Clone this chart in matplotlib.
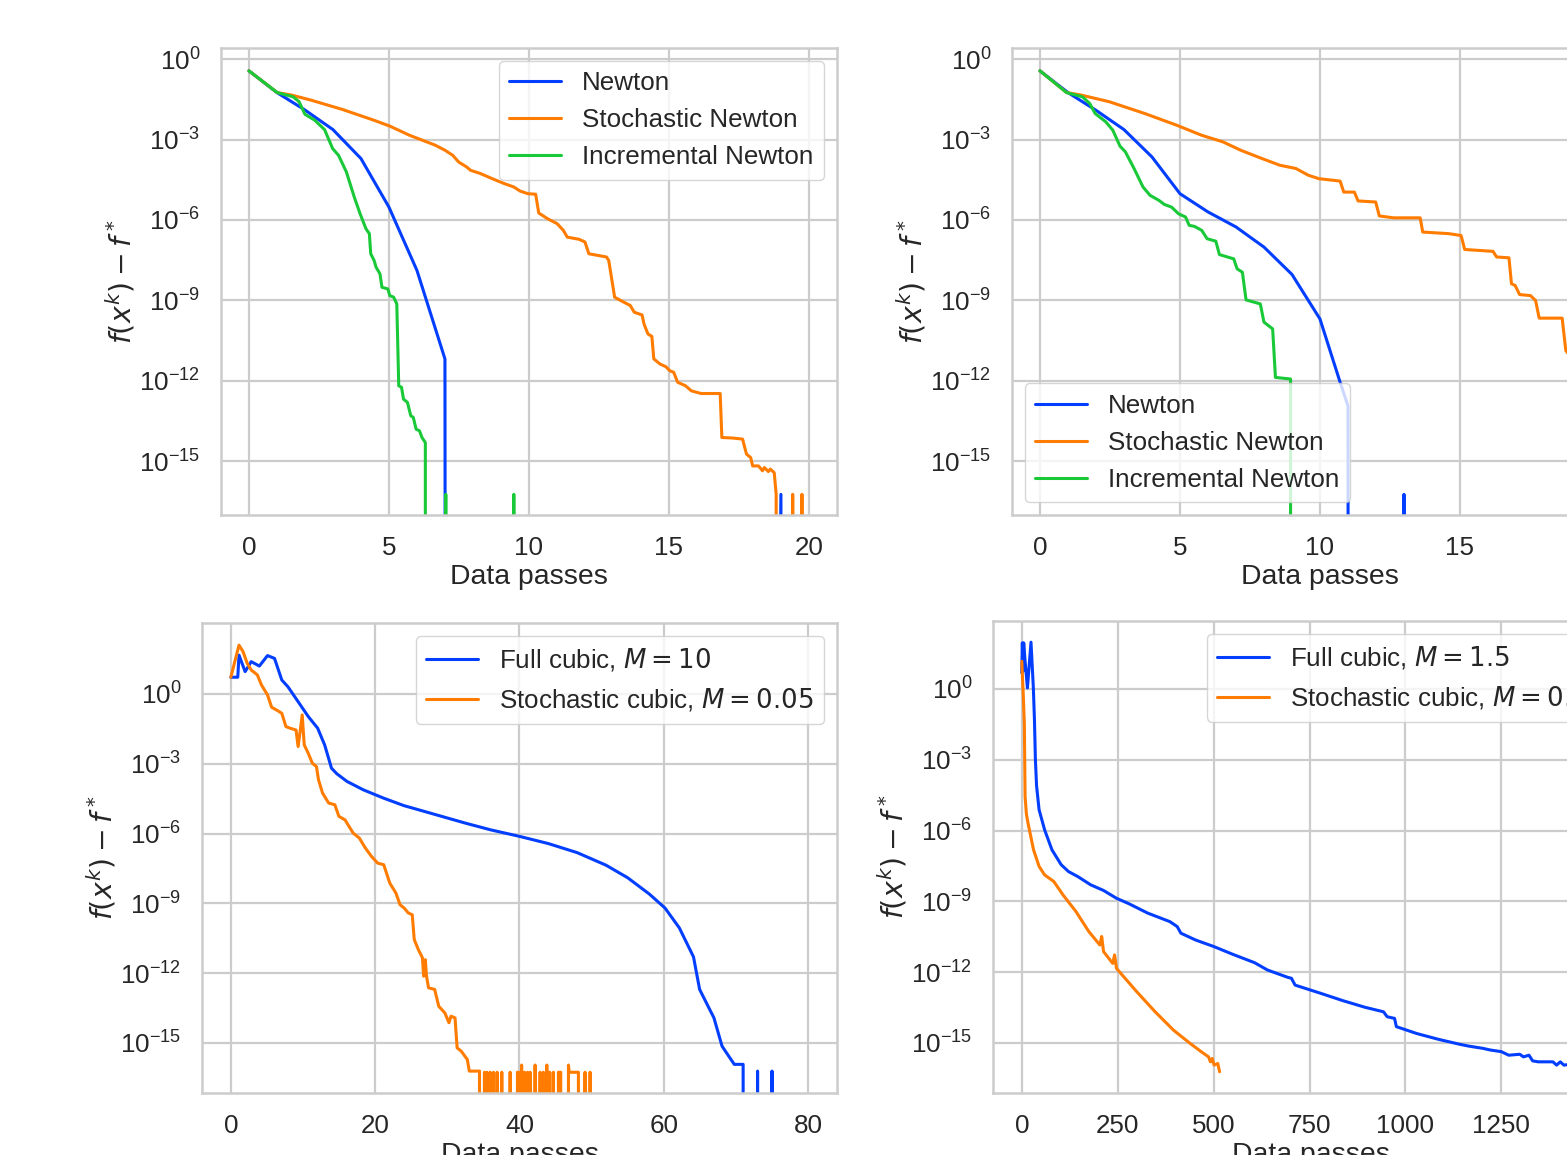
import numpy as np
import matplotlib
matplotlib.use("Agg")
import matplotlib.pyplot as plt
import seaborn as sns
from matplotlib.ticker import NullLocator

NINF = -np.inf  # exact zero gap, drawn as a drop to the bottom of the log axis

# --- top left: data passes and log10(f(x^k) - f*) ---
tl_newton_x = [0, 1, 2, 3, 4, 5, 6, 7, 8, 19, 20]
tl_newton_log = [-0.44, -1.25, -1.9, -2.63, -3.71, -5.52, -7.88, -11.18, NINF, -16.23, NINF]

tl_incr_x = [0, 1.01, 1.58, 1.79, 2.0, 2.35, 2.7, 2.99, 3.2, 3.48, 3.76, 3.97, 4.18, 4.3,
             4.35, 4.47, 4.54, 4.68, 4.75, 4.96, 5.03, 5.17, 5.28, 5.35, 5.45, 5.52, 5.66,
             5.78, 5.87, 5.97, 6.09, 6.18, 6.3, 6.35, 7.03, 7.1, 9.46, 9.55]
tl_incr_log = [-0.44, -1.25, -1.41, -1.59, -2.06, -2.28, -2.63, -3.34, -3.59, -4.21, -5.14,
               -5.77, -6.33, -6.51, -7.26, -7.51, -7.76, -8.01, -8.51, -8.57, -8.82, -8.88,
               -9.13, -12.18, -12.24, -12.68, -12.8, -13.3, -13.36, -13.8, -13.86, -14.11,
               -14.3, NINF, -16.23, NINF, -16.23, NINF]

tl_stoch_x = [0, 1.01, 1.51, 2.21, 3.34, 4.46, 5.03, 5.73, 6.65, 7.0, 7.28, 7.49, 7.77, 7.92,
              8.27, 8.69, 9.11, 9.46, 9.68, 9.96, 10.24, 10.35, 10.66, 11.01, 11.23, 11.37,
              11.79, 12.0, 12.14, 12.77, 12.85, 13.06, 13.27, 13.62, 13.76, 14.04, 14.11,
              14.25, 14.39, 14.46, 14.68, 14.89, 15.03, 15.17, 15.31, 15.59, 15.8, 16.15,
              16.83, 16.89, 17.28, 17.63, 17.77, 17.92, 17.99, 18.2, 18.34, 18.41, 18.55,
              18.62, 18.76, 18.83, 18.9, 19.42, 19.5, 19.75, 19.85, 20.0]
tl_stoch_log = [-0.44, -1.25, -1.34, -1.53, -1.88, -2.28, -2.5, -2.84, -3.21, -3.4, -3.59,
                -3.84, -4.02, -4.15, -4.27, -4.46, -4.64, -4.77, -4.92, -5.02, -5.04, -5.74,
                -5.95, -6.14, -6.39, -6.64, -6.72, -6.82, -7.26, -7.38, -7.51, -8.88, -9.0,
                -9.19, -9.44, -9.54, -9.88, -10.25, -10.34, -11.18, -11.37, -11.47, -11.62,
                -11.68, -12.05, -12.18, -12.37, -12.47, -12.47, -14.11, -14.13, -14.17,
                -14.73, -14.86, -15.17, -15.17, -15.35, -15.23, -15.38, -15.29, -15.42,
                -16.23, NINF, -16.23, NINF, -16.23, NINF, NINF]

# --- top right ---
tr_newton_x = [0, 1, 2, 3, 4, 5, 6, 7, 8, 9, 10, 10.72, 11, 12, 13, 14, 20]
tr_newton_log = [-0.44, -1.25, -1.91, -2.63, -3.65, -5.02, -5.7, -6.26, -7.01, -8.03, -9.69,
                 -12.05, -12.93, NINF, -16.23, NINF, NINF]

tr_incr_x = [0, 0.95, 1.52, 1.78, 1.97, 2.35, 2.6, 2.86, 3.05, 3.36, 3.68, 3.93, 4.25, 4.44,
             4.7, 4.95, 5.2, 5.33, 5.52, 5.78, 5.97, 6.28, 6.41, 6.92, 7.04, 7.23, 7.36,
             7.87, 8.0, 8.31, 8.41, 8.95, 9.0]
tr_incr_log = [-0.44, -1.25, -1.41, -1.66, -2.03, -2.34, -2.65, -3.25, -3.46, -4.08, -4.77,
               -5.08, -5.27, -5.42, -5.52, -5.77, -5.89, -6.2, -6.24, -6.39, -6.7, -6.79,
               -7.29, -7.45, -7.82, -7.95, -8.98, -9.13, -9.81, -10.06, -11.87, -11.93, NINF]

tr_stoch_x = [0, 0.95, 1.46, 2.47, 3.74, 4.89, 5.77, 6.54, 7.17, 7.93, 8.57, 9.14, 9.58, 9.96,
              10.72, 10.85, 11.23, 11.36, 11.99, 12.12, 12.63, 13.58, 13.67, 14.6, 15.04,
              15.17, 16.18, 16.31, 16.75, 16.84, 16.97, 17.13, 17.52, 17.7, 17.83, 18.65,
              18.78, 19.2, 19.6, 20.0]
tr_stoch_log = [-0.44, -1.25, -1.34, -1.59, -2.03, -2.47, -2.84, -3.09, -3.4, -3.71, -3.96,
                -4.08, -4.33, -4.46, -4.55, -4.96, -4.96, -5.29, -5.33, -5.85, -5.92, -5.92,
                -6.45, -6.51, -6.58, -7.1, -7.17, -7.38, -7.41, -8.38, -8.44, -8.78, -8.82,
                -9.0, -9.66, -9.66, -10.87, -11.4, -11.9, -12.5]

# --- bottom left ---
bl_full_x = [0, 0.96, 1.13, 1.98, 2.82, 3.95, 5.08, 6.05, 7.06, 7.91, 9.32, 10.73, 12.03,
             13.0, 13.95, 14.69, 16.1, 18.36, 21.19, 24.0, 26.84, 30.0, 32.49, 36.0, 40.0,
             44.0, 48.0, 52.0, 55.0, 58.0, 60.17, 62.15, 64.12, 64.97, 66.95, 68.08, 69.77,
             71.0, 72, 73, 74, 75, 76, 80]
bl_full_log = [0.72, 0.72, 1.67, 0.96, 1.39, 1.2, 1.65, 1.53, 0.6, 0.31, -0.33, -0.97, -1.47,
               -2.19, -3.19, -3.43, -3.76, -4.12, -4.48, -4.8, -5.05, -5.33, -5.55, -5.84,
               -6.12, -6.43, -6.82, -7.36, -7.9, -8.6, -9.2, -10.05, -11.3, -12.7, -13.92,
               -15.14, -15.92, -15.92, NINF, -16.21, NINF, -16.21, NINF, NINF]

bl_stoch_x = [0, 1.13, 1.69, 2.26, 2.82, 3.67, 4.24, 5.08, 5.65, 6.5, 7.06, 7.63, 8.19, 9.04,
              9.32, 9.6, 9.89, 10.17, 10.73, 11.3, 11.86, 12.15, 12.71, 13.56, 14.41, 14.97,
              15.82, 16.95, 17.8, 18.64, 19.49, 20.34, 21.19, 22.03, 22.88, 23.45, 24.01,
              24.58, 25.14, 25.42, 25.99, 26.55, 26.72, 26.95, 27.12, 27.4, 28.25, 28.81,
              29.66, 30.23, 30.51, 31.07, 31.36, 31.92, 32.77, 33.05, 34.46, 34.6, 35.15,
              35.3, 35.5, 35.65, 35.94, 36.1, 36.4, 36.55, 36.9, 37.05, 37.55, 37.7, 38.71,
              38.85, 39.72, 39.9, 40.05, 40.3, 40.45, 40.7, 40.85, 41.11, 41.25, 41.48, 41.6,
              42.17, 42.3, 42.86, 43.0, 43.3, 43.45, 43.79, 43.95, 44.2, 44.35, 44.71, 44.85,
              45.4, 45.72, 45.85, 46.79, 46.9, 48.17, 48.3, 49.09, 49.2, 49.79, 49.9]
bl_stoch_log = [0.72, 2.1, 1.82, 1.32, 1.03, 0.82, 0.39, -0.04, -0.57, -0.72, -0.83, -1.4,
                -1.47, -1.55, -2.26, -1.62, -0.9, -2.19, -2.55, -2.98, -3.12, -3.69, -4.26,
                -4.69, -4.76, -5.26, -5.41, -5.98, -6.19, -6.62, -6.98, -7.27, -7.34, -8.13,
                -8.56, -9.06, -9.2, -9.41, -9.49, -10.56, -10.99, -11.34, -12.13, -11.42,
                -12.13, -12.63, -12.7, -13.42, -13.71, -14.13, -13.85, -13.92, -15.21,
                -15.35, -15.71, -16.21, -16.21, NINF, -16.26, NINF, -16.26, NINF, -16.26,
                NINF, -16.26, NINF, -16.26, NINF, -16.26, NINF, -16.26, NINF, -16.26, -16.26,
                NINF, -15.95, NINF, -16.26, NINF, -16.26, NINF, -16.26, NINF, -15.95, NINF,
                -16.26, NINF, -16.26, NINF, -15.95, NINF, -16.26, NINF, -16.26, NINF, -16.26,
                -16.26, NINF, -15.95, -16.26, -16.26, NINF, -16.26, NINF, -16.26, NINF]

# --- bottom right ---
br_full_x = [0, 1.5, 3.0, 5.0, 8.5, 14.7, 24.0, 30.0, 33.0, 35.5, 38.5, 45.1, 59.5, 78.7,
             102.7, 121.9, 145.9, 179.5, 213.1, 246.8, 280.4, 328.3, 386.0, 405.1, 414.7,
             453.2, 501.2, 549.2, 606.8, 640.4, 693.2, 702.8, 712.4, 779.6, 837.2, 894.8,
             942.8, 952.4, 971.6, 976.4, 1029.2, 1086.8, 1139.6, 1163.6, 1202.0, 1221.2,
             1250.0, 1269.2, 1298.0, 1307.6, 1322.0, 1331.6, 1346.0, 1384.4, 1394.0, 1403.6,
             1413.0, 1440.0, 1470.0, 1505.0]
br_full_log = [0.68, 1.95, 0.75, 1.95, 1.2, 0.04, 1.98, 0.1, -1.3, -3.0, -4.1, -5.12, -5.97,
               -6.82, -7.45, -7.74, -7.95, -8.3, -8.54, -8.87, -9.11, -9.5, -9.86, -10.07,
               -10.35, -10.64, -10.92, -11.24, -11.6, -11.91, -12.22, -12.26, -12.55, -12.9,
               -13.21, -13.49, -13.68, -13.89, -13.96, -14.31, -14.6, -14.85, -15.05, -15.13,
               -15.23, -15.3, -15.37, -15.52, -15.48, -15.59, -15.52, -15.76, -15.8, -15.8,
               -15.94, -15.8, -15.94, -15.88, -15.95, -16.0]

br_stoch_x = [0, 4.0, 6.7, 8.6, 12.0, 16.3, 30.7, 45.1, 59.5, 83.5, 107.5, 141.1, 174.7,
              203.5, 208.3, 213.1, 237.1, 241.9, 246.8, 299.6, 347.6, 395.6, 438.8, 467.6,
              486.8, 491.6, 496.4, 501.2, 510.8, 515.6]
br_stoch_log = [1.17, -0.3, -1.5, -4.55, -5.3, -5.69, -6.82, -7.52, -7.88, -8.16, -8.73,
                -9.43, -10.28, -10.85, -10.49, -11.13, -11.63, -11.27, -11.84, -12.83,
                -13.68, -14.46, -15.02, -15.37, -15.59, -15.8, -15.66, -15.94, -15.87, -16.22]

top_labels = ["Newton", "Stochastic Newton", "Incremental Newton"]
ytick_exps = [0, -3, -6, -9, -12, -15]

sns.set_theme(style="whitegrid", palette="bright")
plt.rcParams["font.family"] = ["Liberation Sans", "DejaVu Sans"]
plt.rcParams["axes.unicode_minus"] = True
blue, orange, green = "#023eff", "#ff7c00", "#1ac938"

fig = plt.figure(figsize=(15.67, 11.55), dpi=100)
axes = [
    fig.add_axes([0.1410, 0.5541, 0.3931, 0.4043]),
    fig.add_axes([0.6458, 0.5541, 0.3931, 0.4043]),
    fig.add_axes([0.1289, 0.0537, 0.4052, 0.4069]),
    fig.add_axes([0.6337, 0.0537, 0.4052, 0.4087]),
]


def yv(logs):
    return 10.0 ** np.array(logs, dtype=float)


lw = 2.2
ax = axes[0]
ax.plot(tl_newton_x, yv(tl_newton_log), color=blue, lw=lw, label=top_labels[0])
ax.plot(tl_stoch_x, yv(tl_stoch_log), color=orange, lw=lw, label=top_labels[1])
ax.plot(tl_incr_x, yv(tl_incr_log), color=green, lw=lw, label=top_labels[2])

ax = axes[1]
ax.plot(tr_newton_x, yv(tr_newton_log), color=blue, lw=lw, label=top_labels[0])
ax.plot(tr_stoch_x, yv(tr_stoch_log), color=orange, lw=lw, label=top_labels[1])
ax.plot(tr_incr_x, yv(tr_incr_log), color=green, lw=lw, label=top_labels[2])

ax = axes[2]
ax.plot(bl_full_x, yv(bl_full_log), color=blue, lw=lw, label="Full cubic, $M=10$")
ax.plot(bl_stoch_x, yv(bl_stoch_log), color=orange, lw=lw, label="Stochastic cubic, $M=0.05$")

ax = axes[3]
ax.plot(br_full_x, yv(br_full_log), color=blue, lw=lw, label="Full cubic, $M=1.5$")
ax.plot(br_stoch_x, yv(br_stoch_log), color=orange, lw=lw, label="Stochastic cubic, $M=0.05$")

ylims = [(10 ** -17.0, 10 ** 0.41), (10 ** -17.0, 10 ** 0.41),
         (10 ** -17.15, 10 ** 3.05), (10 ** -17.12, 10 ** 2.88)]
xlims = [(-1, 21), (-1, 21), (-4, 84), (-75, 1580)]
legend_locs = ["upper right", "lower left", "upper right", "upper right"]

for ax, yl, xl, loc in zip(axes, ylims, xlims, legend_locs):
    ax.set_yscale("log", nonpositive="clip")
    ax.set_ylim(*yl)
    ax.set_xlim(*xl)
    ax.set_yticks([10.0 ** e for e in ytick_exps])
    ax.yaxis.set_minor_locator(NullLocator())
    ax.tick_params(labelsize=18.7, pad=9, colors="#262626")
    ax.grid(True, color="#cccccc", lw=1.6)
    for sp in ax.spines.values():
        sp.set_color("#cccccc")
        sp.set_linewidth(1.8)
    ax.set_xlabel("Data passes", fontsize=20.4, color="#262626", labelpad=3)
    ax.set_ylabel(r"$f(x^k) - f^*$", fontsize=20.4, color="#262626", labelpad=1)
    ax.legend(loc=loc, fontsize=18.7, framealpha=0.8, edgecolor="#cccccc")

axes[2].set_xticks([0, 20, 40, 60, 80])
axes[3].set_xticks([0, 250, 500, 750, 1000, 1250, 1500])

fig.savefig("out.png", dpi=100)
